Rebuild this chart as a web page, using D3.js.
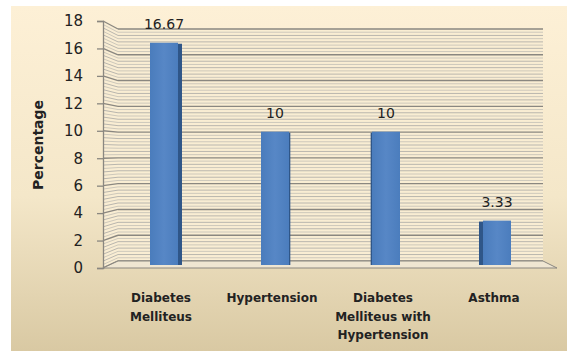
<!DOCTYPE html>
<html>
<head>
<meta charset="utf-8">
<script src="https://cdn.jsdelivr.net/npm/d3@7"></script>
<style>
  html, body { margin: 0; padding: 0; background: #fff; }
  svg { display: block; }
</style>
</head>
<body>
<svg id="chart" width="567" height="351"></svg>
<script>
// ---- data ----
const categories = ["Diabetes Melliteus", "Hypertension", "Diabetes Melliteus with Hypertension", "Asthma"];
const categoryLines = [["Diabetes", "Melliteus"], ["Hypertension"], ["Diabetes", "Melliteus with", "Hypertension"], ["Asthma"]];
const values = [16.67, 10, 10, 3.33];
const valueLabels = ["16.67", "10", "10", "3.33"];
const yTicks = [0, 2, 4, 6, 8, 10, 12, 14, 16, 18];
const yTitle = "Percentage";

const svg = d3.select("#chart");
const defs = svg.append("defs");

// background gradient
const bg = defs.append("linearGradient").attr("id", "bg").attr("x1", 0).attr("y1", 0).attr("x2", 0).attr("y2", 1);
bg.append("stop").attr("offset", "0%").attr("stop-color", "#fdf0d6");
bg.append("stop").attr("offset", "55%").attr("stop-color", "#f4e7c9");
bg.append("stop").attr("offset", "100%").attr("stop-color", "#d9c9a3");
svg.append("rect").attr("x", 11).attr("y", 6).attr("width", 556).attr("height", 345).attr("fill", "url(#bg)");

// bar gradient
const bg2 = defs.append("linearGradient").attr("id", "barg").attr("x1", 0).attr("y1", 0).attr("x2", 1).attr("y2", 0);
bg2.append("stop").attr("offset", "0%").attr("stop-color", "#4a7cbc");
bg2.append("stop").attr("offset", "50%").attr("stop-color", "#5787c6");
bg2.append("stop").attr("offset", "100%").attr("stop-color", "#4b7dbd");

// scales
const yFront = d3.scaleLinear().domain([0, 18]).range([268, 21]);
const yBack = d3.scaleLinear().domain([0, 18]).range([261, 29]);
const yMid = d3.scaleLinear().domain([0, 18]).range([265, 25]);
const x = d3.scaleBand().domain(categories).range([108.5, 552.5]);
const xFrontL = 103, xBackL = 118, xBackR = 543, xFrontR = 557;
const vanishX = 330;

const minor = d3.range(0, 18.001, 0.25);
const g = svg.append("g");

// wall fill
g.append("rect").attr("x", xBackL).attr("y", yBack(18)).attr("width", xBackR - xBackL)
  .attr("height", yBack(0) - yBack(18)).attr("fill", "#f9edd3");
g.append("path").attr("d", `M${xFrontL},${yFront(0)}L${xBackL},${yBack(0)}L${xBackL},${yBack(18)}L${xFrontL},${yFront(18)}Z`)
  .attr("fill", "#f9edd3");

minor.forEach(v => {
  const major = Math.abs(v / 2 - Math.round(v / 2)) < 1e-6;
  const col = major ? "#8a8780" : (Math.round(v * 4) % 2 ? "#cdc8bb" : "#b9b6ae");
  const w = major ? 1.4 : 1;
  g.append("line").attr("x1", xBackL).attr("x2", xBackR).attr("y1", yBack(v)).attr("y2", yBack(v))
    .attr("stroke", col).attr("stroke-width", w);
  g.append("line").attr("x1", xFrontL).attr("x2", xBackL).attr("y1", yFront(v)).attr("y2", yBack(v))
    .attr("stroke", col).attr("stroke-width", w);
});

// floor
g.append("path").attr("d", `M${xFrontL},${yFront(0)}L${xBackL},${yBack(0)}L${xBackR},${yBack(0)}L${xFrontR},${yFront(0)}Z`)
  .attr("fill", "#efe6d2").attr("stroke", "#8a8780").attr("stroke-width", 1);

// y axis
const axis = d3.axisLeft(yFront).tickValues(yTicks).tickSize(6).tickPadding(14);
const ax = svg.append("g").attr("transform", `translate(${xFrontL},0)`).call(axis);
ax.select(".domain").attr("stroke", "#8a8780").attr("stroke-width", 1.3);
ax.selectAll(".tick line").attr("stroke", "#8a8780").attr("stroke-width", 1.3);
ax.selectAll(".tick text").attr("font-family", "DejaVu Sans").attr("font-size", 15).attr("fill", "#222");

// bars
const barW = 28;
const bars = svg.append("g");
values.forEach((v, i) => {
  const c = categories[i];
  const cx = x(c) + x.bandwidth() / 2;
  const left = cx - barW / 2;
  const top = yMid(v), bottom = yMid(0);
  const side = (cx - vanishX) * 0.024;
  if (side < 0) {
    bars.append("rect").attr("x", left + barW).attr("y", top + 1).attr("width", -side).attr("height", bottom - top - 1)
      .attr("fill", "#2f5688");
  } else {
    bars.append("rect").attr("x", left - side).attr("y", top + 1).attr("width", side).attr("height", bottom - top - 1)
      .attr("fill", "#2f5688");
  }
  bars.append("rect").attr("x", left).attr("y", top).attr("width", barW).attr("height", bottom - top)
    .attr("fill", "url(#barg)");
  // value label
  svg.append("text").attr("x", cx).attr("y", top - 14).attr("text-anchor", "middle")
    .attr("font-family", "DejaVu Sans").attr("font-size", 14).attr("fill", "#222").text(valueLabels[i]);
  // category label
  const t = svg.append("text").attr("text-anchor", "middle")
    .attr("font-family", "DejaVu Sans").attr("font-weight", "bold").attr("font-size", 12).attr("fill", "#222");
  categoryLines[i].forEach((ln, j) => {
    t.append("tspan").attr("x", cx - 3).attr("y", 302 + j * 18.5).text(ln);
  });
});

// y title
svg.append("text").attr("transform", "translate(43,145) rotate(-90)").attr("text-anchor", "middle")
  .attr("font-family", "DejaVu Sans").attr("font-weight", "bold").attr("font-size", 14).attr("fill", "#222").text(yTitle);
</script>
</body>
</html>
